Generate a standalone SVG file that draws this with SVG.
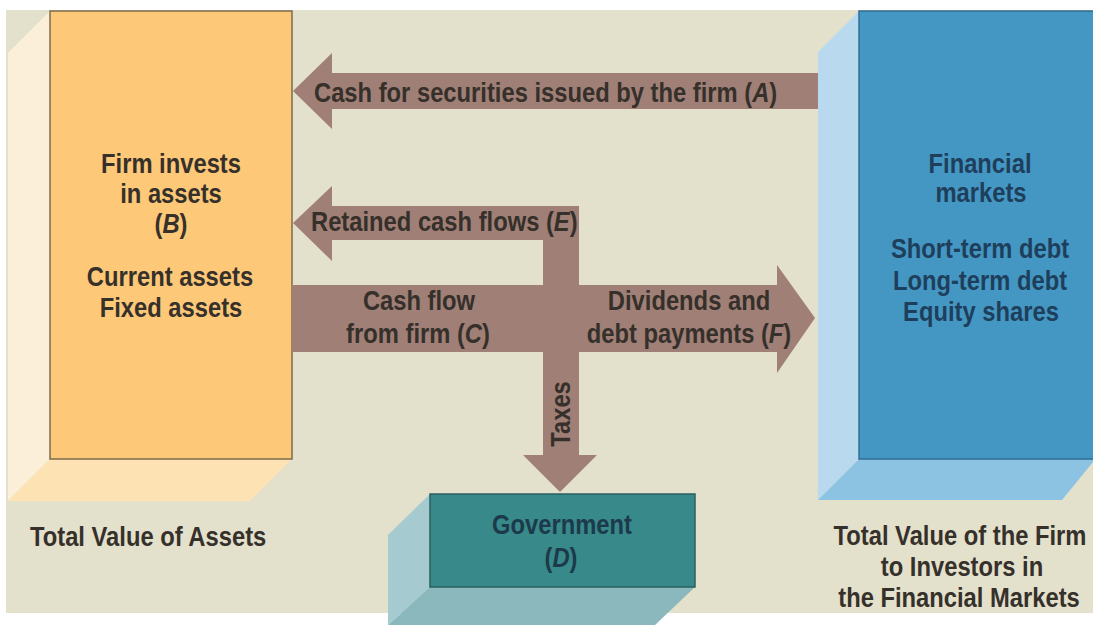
<svg xmlns="http://www.w3.org/2000/svg" width="1093" height="625" viewBox="0 0 1093 625">
  <style>
    .lbl { font-family: "Liberation Sans", Arial, sans-serif; font-weight: bold; font-size: 27px; fill: #36302b; }
    .mid { text-anchor: middle; }
    .blue { fill: #1e3f5c; }
    .teal { fill: #1c3a4a; }
    .arrow { fill: #a07f76; }
  </style>

  <!-- page background -->
  <rect x="0" y="0" width="1093" height="625" fill="#ffffff"/>
  <rect x="6" y="10" width="1087" height="603" fill="#e3e0cc"/>

  <!-- Firm's assets block (labels use a condensed scale of 0.88) -->
  <g id="node-assets">
    <polygon points="50,11 50,459 8,501 8,53" fill="#fcefda"/>
    <polygon points="50,459 292,459 250,501 8,501" fill="#fde3b3"/>
    <rect x="50" y="11" width="242" height="448" fill="#fdc878" stroke="#7d6b4d" stroke-width="1.5"/>
    <text class="lbl mid" transform="translate(171,173) scale(.88,1)">Firm invests</text>
    <text class="lbl mid" transform="translate(171,203) scale(.88,1)">in assets</text>
    <text class="lbl mid" transform="translate(171,233) scale(.88,1)">(<tspan font-style="italic">B</tspan>)</text>
    <text class="lbl mid" transform="translate(170,286) scale(.88,1)">Current assets</text>
    <text class="lbl mid" transform="translate(171,317) scale(.88,1)">Fixed assets</text>
  </g>

  <!-- Financial markets block -->
  <g id="node-markets">
    <polygon points="859,11 859,459 818,500 818,52" fill="#b9daee"/>
    <polygon points="859,459 1093,459 1093,462 1062,500 818,500" fill="#8cc3e3"/>
    <rect x="859" y="11" width="240" height="448" fill="#4597c3" stroke="#2f6f90" stroke-width="1.5"/>
    <text class="lbl mid blue" transform="translate(980,173) scale(.88,1)">Financial</text>
    <text class="lbl mid blue" transform="translate(981,202) scale(.88,1)">markets</text>
    <text class="lbl mid blue" transform="translate(980,258) scale(.88,1)">Short-term debt</text>
    <text class="lbl mid blue" transform="translate(980,290) scale(.88,1)">Long-term debt</text>
    <text class="lbl mid blue" transform="translate(981,321) scale(.88,1)">Equity shares</text>
  </g>

  <!-- Government block -->
  <g id="node-government">
    <polygon points="430,494 430,587 388,625 388,535" fill="#a5cbd1"/>
    <polygon points="430,587 695,587 655,625 388,625" fill="#8ab8bd"/>
    <rect x="430" y="494" width="265" height="93" fill="#38898a" stroke="#2b5f60" stroke-width="1.5"/>
    <text class="lbl mid teal" transform="translate(562,534) scale(.88,1)">Government</text>
    <text class="lbl mid teal" transform="translate(561,567) scale(.88,1)">(<tspan font-style="italic">D</tspan>)</text>
  </g>

  <!-- cash-flow arrows -->
  <g id="connectors">
    <!-- A: securities issued -->
    <polygon class="arrow" points="293,91 332,53 332,73 818,73 818,109 332,109 332,129"/>
    <!-- E: retained cash flows, joined to the tax drop -->
    <polygon class="arrow" points="293,223 332,186 332,206 579,206 579,455 597,455 560,492 523,455 543,455 543,240 332,240 332,261"/>
    <!-- C -> F: cash flow from firm to investors -->
    <polygon class="arrow" points="292,285 777,285 777,265 815,318 777,373 777,352 292,352"/>
  </g>

  <!-- arrow labels -->
  <g id="labels">
    <text class="lbl" transform="translate(314,102) scale(.88,1)">Cash for securities issued by the firm (<tspan font-style="italic">A</tspan>)</text>
    <text class="lbl" transform="translate(311,231) scale(.88,1)">Retained cash flows (<tspan font-style="italic">E</tspan>)</text>
    <text class="lbl mid" transform="translate(419,310) scale(.88,1)">Cash flow</text>
    <text class="lbl mid" transform="translate(418,343) scale(.88,1)">from firm (<tspan font-style="italic">C</tspan>)</text>
    <text class="lbl mid" transform="translate(689,310) scale(.88,1)">Dividends and</text>
    <text class="lbl mid" transform="translate(689,343) scale(.88,1)">debt payments (<tspan font-style="italic">F</tspan>)</text>
    <text class="lbl mid" transform="translate(570,414) rotate(-90) scale(.88,1)">Taxes</text>
  </g>

  <!-- captions -->
  <g id="captions">
    <text class="lbl" transform="translate(30,546) scale(.88,1)">Total Value of Assets</text>
    <text class="lbl mid" transform="translate(960,545) scale(.88,1)">Total Value of the Firm</text>
    <text class="lbl mid" transform="translate(962,576) scale(.88,1)">to Investors in</text>
    <text class="lbl mid" transform="translate(959,607) scale(.88,1)">the Financial Markets</text>
  </g>
</svg>
